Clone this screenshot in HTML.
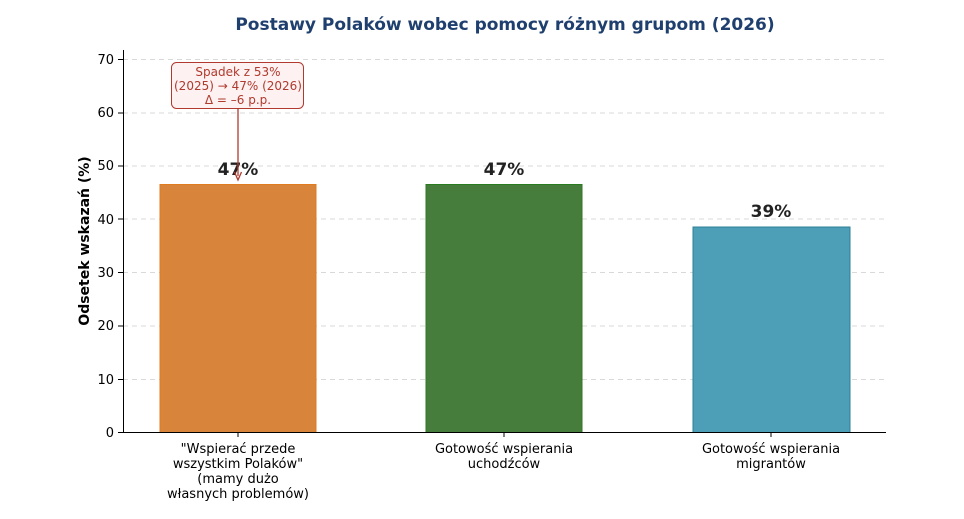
<!DOCTYPE html>
<html><head><meta charset="utf-8"><style>body{margin:0;background:#fff}svg{display:block}text{font-family:"DejaVu Sans","Liberation Sans",sans-serif}</style></head>
<body>
<svg width="964" height="519" viewBox="0 0 964 519" xmlns="http://www.w3.org/2000/svg">
<text x="505" y="30" text-anchor="middle" font-size="17" font-weight="bold" fill="#1f3f6e">Postawy Polaków wobec pomocy różnym grupom (2026)</text>
<g stroke="#d9d9d9" stroke-dasharray="5,4" stroke-width="1">
<line x1="123" x2="886" y1="379.5" y2="379.5"/><line x1="123" x2="886" y1="326" y2="326"/><line x1="123" x2="886" y1="272.5" y2="272.5"/><line x1="123" x2="886" y1="219" y2="219"/><line x1="123" x2="886" y1="166" y2="166"/><line x1="123" x2="886" y1="113" y2="113"/><line x1="123" x2="886" y1="59.5" y2="59.5"/>
</g>
<rect x="160" y="184.5" width="156" height="248" fill="#d9843b" stroke="#e07b20"/>
<rect x="426" y="184.5" width="156" height="248" fill="#467d3d" stroke="#2a7a20"/>
<rect x="693" y="227" width="157" height="205.5" fill="#4c9fb6" stroke="#2e7f98"/>
<line x1="123.5" x2="123.5" y1="50" y2="433" stroke="#000"/>
<line x1="123" x2="886" y1="432.5" y2="432.5" stroke="#000"/>
<g font-size="13" fill="#000" text-anchor="end">
<text x="114" y="437">0</text><text x="114" y="384">10</text><text x="114" y="330">20</text><text x="114" y="277">30</text><text x="114" y="224">40</text><text x="114" y="170">50</text><text x="114" y="117">60</text><text x="114" y="64">70</text>
</g>
<g stroke="#000"><line x1="118" x2="123" y1="432.5" y2="432.5"/><line x1="118" x2="123" y1="379.5" y2="379.5"/><line x1="118" x2="123" y1="326" y2="326"/><line x1="118" x2="123" y1="272.5" y2="272.5"/><line x1="118" x2="123" y1="219" y2="219"/><line x1="118" x2="123" y1="166" y2="166"/><line x1="118" x2="123" y1="113" y2="113"/><line x1="118" x2="123" y1="59.5" y2="59.5"/>
<line x1="238" x2="238" y1="433" y2="437"/><line x1="504" x2="504" y1="433" y2="437"/><line x1="771" x2="771" y1="433" y2="437"/></g>
<text transform="translate(89,241) rotate(-90)" text-anchor="middle" font-size="14" font-weight="bold">Odsetek wskazań (%)</text>
<g font-size="17" font-weight="bold" fill="#222" text-anchor="middle">
<text x="238" y="175">47%</text><text x="504" y="175">47%</text><text x="771" y="217">39%</text></g>
<g font-size="13" text-anchor="middle" fill="#000">
<text x="238" y="453">"Wspierać przede</text><text x="238" y="468">wszystkim Polaków"</text><text x="238" y="483">(mamy dużo</text><text x="238" y="498">własnych problemów)</text>
<text x="504" y="453">Gotowość wspierania</text><text x="504" y="468">uchodźców</text>
<text x="771" y="453">Gotowość wspierania</text><text x="771" y="468">migrantów</text></g>
<line x1="238" x2="238" y1="109" y2="176" stroke="#b03a2e" stroke-width="1.3"/>
<path d="M234.5,172 L238,180 L241.5,172" fill="none" stroke="#b03a2e" stroke-width="1.3"/>
<rect x="171.5" y="62.5" width="132" height="46" rx="5" fill="#fdf1f1" stroke="#b03a2e"/>
<g font-size="12" fill="#b03a2e" text-anchor="middle">
<text x="238" y="76">Spadek z 53%</text><text x="238" y="90">(2025) → 47% (2026)</text><text x="238" y="104">Δ = –6 p.p.</text></g>
</svg>
</body></html>
